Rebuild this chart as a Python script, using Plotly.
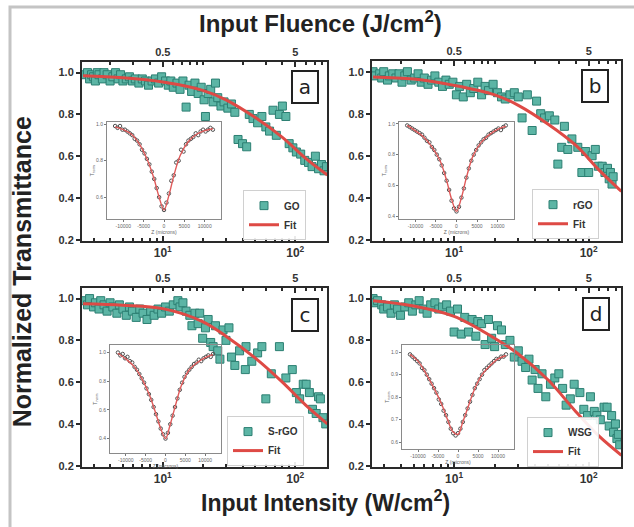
import plotly.graph_objects as go

# ---------------- data ----------------
# Main panels: input intensity (W/cm^2) vs normalized transmittance
I_a = [2.6, 2.7, 2.8, 2.9, 3.0, 3.1, 3.2, 3.3, 3.5, 3.6, 3.8, 4.0, 4.2, 4.4, 4.6, 4.8, 5.0, 5.3, 5.6, 5.9,
       6.2, 6.6, 7.0, 7.4, 7.8, 8.3, 8.8, 9.3, 9.8, 10.5, 11.0, 11.5, 12.0, 12.8, 13.5, 14.2, 15.0, 15.8, 16.5, 17.5,
       18.5, 19.5, 20.5, 21.0, 22.0, 23.0, 24.0, 25.0, 26.0, 27.5, 29.0, 31.0, 33.0, 35.0, 37.0, 40.0, 43.0, 45.0, 48.0, 52.0,
       56.0, 60.0, 64.0, 68.0, 72.0, 76.0, 80.0, 85.0, 90.0, 96.0, 102.0, 110.0, 118.0, 126.0, 134.0, 142.0, 150.0, 158.0, 165.0, 172.0]
T_a = [0.99, 1.00, 0.97, 0.99, 0.98, 0.96, 1.00, 0.99, 0.97, 1.00, 0.99, 0.96, 0.98, 1.00, 0.97, 0.99, 0.96, 0.97, 0.98, 0.96,
       0.97, 0.95, 0.97, 0.96, 0.94, 0.96, 0.97, 0.95, 0.98, 0.96, 0.94, 0.96, 0.93, 0.95, 0.92, 0.96, 0.835, 0.94, 0.91, 0.95,
       0.90, 0.93, 0.87, 0.79, 0.90, 0.92, 0.86, 0.95, 0.88, 0.84, 0.86, 0.83, 0.85, 0.81, 0.68, 0.66, 0.645, 0.80, 0.78, 0.76,
       0.79, 0.74, 0.72, 0.82, 0.70, 0.80, 0.84, 0.79, 0.66, 0.64, 0.62, 0.61, 0.58, 0.57, 0.55, 0.60, 0.54, 0.56, 0.53, 0.55]

I_b = [2.5, 2.6, 2.8, 2.9, 3.0, 3.2, 3.3, 3.5, 3.7, 3.9, 4.1, 4.3, 4.5, 4.8, 5.1, 5.4, 5.7, 6.0, 6.4, 6.8,
       7.2, 7.7, 8.2, 8.7, 9.2, 9.8, 10.4, 11.0, 11.7, 12.4, 13.2, 14.0, 15.0, 16.0, 17.0, 18.0, 19.5, 21.0, 22.5, 24.0,
       26.0, 28.0, 30.0, 32.0, 35.0, 38.0, 41.0, 44.0, 47.0, 51.0, 56.0, 59.0, 63.0, 66.0, 70.0, 75.0, 83.0, 89.0, 95.0, 100.0,
       106.0, 112.0, 118.0, 126.0, 132.0, 138.0, 142.0, 145.0, 149.0, 152.0]
T_b = [1.00, 0.98, 0.99, 0.97, 1.00, 0.96, 0.98, 0.99, 0.97, 0.99, 0.95, 0.98, 1.00, 0.96, 0.97, 0.99, 0.95, 0.97, 0.94, 0.96,
       0.98, 0.95, 0.93, 0.96, 0.94, 0.95, 0.89, 0.93, 0.88, 0.94, 0.90, 0.92, 0.95, 0.89, 0.93, 0.91, 0.94, 0.90, 0.88, 0.87,
       0.89, 0.90, 0.88, 0.78, 0.89, 0.72, 0.86, 0.80, 0.78, 0.79, 0.77, 0.56, 0.64, 0.74, 0.63, 0.68, 0.64, 0.52, 0.62, 0.52,
       0.60, 0.63, 0.55, 0.55, 0.52, 0.54, 0.49, 0.52, 0.465, 0.50]

I_c = [2.6, 2.7, 2.8, 3.0, 3.1, 3.3, 3.4, 3.6, 3.8, 4.0, 4.2, 4.5, 4.7, 5.0, 5.3, 5.6, 5.9, 6.3, 6.7, 7.1,
       7.6, 8.1, 8.6, 9.2, 9.8, 10.5, 11.2, 12.0, 13.0, 13.5, 14.2, 15.0, 16.0, 16.6, 17.5, 18.5, 19.0, 20.0, 21.0, 22.0,
       23.0, 24.0, 25.0, 26.0, 27.0, 28.5, 30.0, 31.6, 33.0, 35.0, 38.0, 42.0, 42.5, 47.0, 52.0, 56.0, 60.0, 66.0, 76.0, 85.0,
       95.0, 102.0, 108.0, 115.0, 121.0, 128.0, 135.0, 144.0, 150.0, 155.0, 162.0, 170.0]
T_c = [0.99, 0.97, 1.00, 0.96, 0.98, 0.95, 0.99, 0.97, 0.94, 0.98, 0.96, 0.93, 0.97, 0.95, 0.92, 0.96, 0.94, 0.91, 0.95, 0.93,
       0.90, 0.94, 0.92, 0.95, 0.93, 0.96, 0.94, 0.97, 0.99, 0.96, 0.98, 0.94, 0.92, 0.87, 0.93, 0.88, 0.93, 0.81, 0.86, 0.90,
       0.79, 0.77, 0.87, 0.75, 0.71, 0.85, 0.80, 0.86, 0.72, 0.68, 0.75, 0.66, 0.77, 0.70, 0.74, 0.77, 0.52, 0.64, 0.77, 0.62,
       0.66, 0.55, 0.52, 0.59, 0.59, 0.55, 0.47, 0.45, 0.53, 0.52, 0.43, 0.40]

I_d = [2.5, 2.6, 2.7, 2.9, 3.0, 3.2, 3.4, 3.6, 3.8, 4.0, 4.3, 4.6, 4.9, 5.2, 5.5, 5.9, 6.3, 6.7, 7.2, 7.7,
       8.2, 8.8, 9.4, 10.0, 10.6, 11.3, 12.0, 12.8, 13.6, 14.5, 15.0, 16.0, 17.0, 18.0, 19.0, 20.0, 21.0, 22.5, 24.0, 26.0,
       28.0, 30.0, 32.0, 34.0, 36.0, 38.0, 40.0, 42.0, 45.0, 48.0, 52.0, 56.0, 60.0, 64.0, 68.0, 73.0, 78.0, 86.0, 92.0, 98.0,
       103.0, 110.0, 115.0, 122.0, 130.0, 137.0, 142.0, 148.0, 153.0, 158.0, 162.0, 166.0, 170.0]
T_d = [1.00, 0.98, 0.99, 0.97, 0.95, 0.96, 0.93, 0.97, 0.95, 0.92, 0.96, 0.98, 0.94, 0.97, 0.99, 0.95, 0.93, 0.97, 0.98, 0.95,
       0.96, 0.97, 0.94, 0.84, 0.95, 0.83, 0.91, 0.84, 0.90, 0.82, 0.89, 0.88, 0.78, 0.90, 0.81, 0.77, 0.87, 0.85, 0.78, 0.80,
       0.72, 0.75, 0.70, 0.67, 0.71, 0.61, 0.66, 0.57, 0.64, 0.53, 0.59, 0.62, 0.64, 0.57, 0.49, 0.52, 0.59, 0.55, 0.47, 0.44,
       0.53, 0.46, 0.44, 0.42, 0.48, 0.48, 0.39, 0.44, 0.36, 0.40, 0.33, 0.35, 0.30]

# Fitted saturable-absorption curves
fit_I = [2.5, 5, 10, 20, 30, 50, 80, 120, 175]
fit_a = [0.985, 0.975, 0.955, 0.915, 0.87, 0.785, 0.69, 0.59, 0.51]
fit_b = [0.975, 0.965, 0.935, 0.89, 0.84, 0.75, 0.65, 0.53, 0.43]
fit_c = [0.975, 0.968, 0.952, 0.89, 0.82, 0.715, 0.60, 0.49, 0.40]
fit_d = [0.99, 0.965, 0.915, 0.81, 0.735, 0.61, 0.46, 0.34, 0.25]

# Inset open-aperture Z-scan traces
z_scan = [-12000, -11400, -10800, -10200, -9600, -9000, -8400, -7800, -7200, -6600, -6000, -5400, -4800, -4200,
          -3600, -3000, -2400, -1800, -1200, -600, 0, 600, 1200, 1800, 2400, 3000, 3600, 4200, 4800, 5400,
          6000, 6600, 7200, 7800, 8400, 9000, 9600, 10200, 10800, 11400, 12000]
zs_a = [0.99, 0.98, 0.99, 0.97, 0.97, 0.96, 0.95, 0.94, 0.92, 0.91, 0.89, 0.86, 0.84, 0.81, 0.78, 0.74, 0.70, 0.65, 0.60, 0.55,
        0.53, 0.57, 0.62, 0.69, 0.72, 0.79, 0.80, 0.86, 0.85, 0.89, 0.91, 0.92, 0.93, 0.95, 0.94, 0.96, 0.97, 0.96, 0.97, 0.98, 0.97]
zs_b = [0.99, 0.98, 0.97, 0.96, 0.95, 0.94, 0.93, 0.91, 0.89, 0.88, 0.85, 0.83, 0.80, 0.77, 0.73, 0.68, 0.63, 0.57, 0.50, 0.45,
        0.43, 0.46, 0.52, 0.58, 0.65, 0.71, 0.76, 0.80, 0.83, 0.86, 0.88, 0.90, 0.91, 0.93, 0.94, 0.95, 0.96, 0.97, 0.96, 0.98, 0.99]
zs_c = [1.00, 0.98, 0.99, 0.96, 0.97, 0.94, 0.93, 0.90, 0.88, 0.85, 0.82, 0.79, 0.75, 0.71, 0.67, 0.62, 0.57, 0.52, 0.47, 0.43,
        0.40, 0.44, 0.50, 0.56, 0.62, 0.68, 0.74, 0.79, 0.83, 0.86, 0.88, 0.90, 0.92, 0.93, 0.95, 0.94, 0.96, 0.97, 0.98, 0.97, 0.99]
zs_d = [0.99, 0.98, 0.97, 0.96, 0.95, 0.93, 0.92, 0.90, 0.88, 0.86, 0.84, 0.82, 0.79, 0.77, 0.74, 0.72, 0.69, 0.66, 0.64, 0.63,
        0.64, 0.66, 0.69, 0.72, 0.75, 0.78, 0.81, 0.84, 0.86, 0.88, 0.90, 0.92, 0.93, 0.94, 0.95, 0.96, 0.97, 0.97, 0.98, 0.98, 0.99]

z_fit = [-12000, -10000, -8000, -6000, -4000, -2500, -1200, 0, 1200, 2500, 4000, 6000, 8000, 10000, 12000]
zf_a = [0.985, 0.97, 0.945, 0.89, 0.80, 0.705, 0.60, 0.53, 0.61, 0.725, 0.83, 0.905, 0.945, 0.965, 0.975]
zf_b = [0.99, 0.955, 0.915, 0.85, 0.76, 0.64, 0.51, 0.43, 0.52, 0.66, 0.79, 0.88, 0.93, 0.965, 0.985]
zf_c = [0.995, 0.955, 0.905, 0.82, 0.70, 0.58, 0.47, 0.40, 0.50, 0.63, 0.77, 0.88, 0.93, 0.965, 0.985]
zf_d = [0.99, 0.96, 0.905, 0.84, 0.765, 0.695, 0.645, 0.635, 0.69, 0.755, 0.83, 0.90, 0.94, 0.97, 0.985]

sample_names = ["GO", "rGO", "S-rGO", "WSG"]
panel_letters = ["a", "b", "c", "d"]
intensity_ticks = [10, 100]
intensity_ticktext = ["10<sup>1</sup>", "10<sup>2</sup>"]
fluence_ticks = [0.5, 5]
fluence_ticktext = ["0.5", "5"]
fluence_per_intensity = 0.05   # J/cm^2 per W/cm^2
y_ticks = [0.2, 0.4, 0.6, 0.8, 1.0]
z_ticks = [-10000, -5000, 0, 5000, 10000]

# ---------------- styling / geometry ----------------
W, H = 634, 527
FONT = "Liberation Sans, Arial, Helvetica, sans-serif"
TEAL = "#5cb5a5"
TEAL_EDGE = "#2c7f72"
RED = "#de4a45"
DARK = "#2a2a2a"


def px_x(p):
    return p / W


def px_y(p):
    return 1 - p / H


main_x = [(82, 327), (372, 621), (82, 327), (372, 621)]
main_y = [(61, 242), (60, 242), (290, 471), (290, 471)]
inset_x = [(107, 221), (399, 514), (110, 221), (402, 514)]
inset_y = [(122, 220), (122, 220), (348, 457), (348, 453)]
inset_yrange = [(0.48, 1.01), (0.38, 1.01), (0.30, 1.05), (0.57, 1.03)]
inset_yticks = [[0.6, 0.8, 1.0], [0.4, 0.6, 0.8, 1.0], [0.4, 0.6, 0.8, 1.0], [0.6, 0.7, 0.8, 0.9, 1.0]]
legend_pos = [(243, 216), (532, 215), (227, 445), (527, 446)]
label_pos = [(305, 86), (595, 85), (305, 317), (596, 316)]

x_log_range = [0.39, 2.24]
shift = -1.30103  # log10(fluence_per_intensity)

main_I = [I_a, I_b, I_c, I_d]
main_T = [T_a, T_b, T_c, T_d]
fits = [fit_a, fit_b, fit_c, fit_d]
zs = [zs_a, zs_b, zs_c, zs_d]
zfs = [zf_a, zf_b, zf_c, zf_d]

fig = go.Figure()
layout = {}
annotations = []

minor_int = [3, 4, 5, 6, 7, 8, 9, 20, 30, 40, 50, 60, 70, 80, 90]
minor_flu = [0.2, 0.3, 0.4, 0.6, 0.7, 0.8, 0.9, 1, 2, 3, 4, 6, 7, 8]

for k in range(4):
    n = k + 1
    xs = "" if n == 1 else str(n)
    leg = "legend" if n == 1 else f"legend{n}"
    top = n + 4
    ins = n + 8

    # measured points
    fig.add_trace(go.Scatter(
        x=main_I[k], y=main_T[k], mode="markers", name=sample_names[k],
        marker=dict(symbol="square", size=8, color=TEAL, line=dict(color=TEAL_EDGE, width=1)),
        xaxis=f"x{xs}", yaxis=f"y{xs}", legend=leg))
    # fit
    fig.add_trace(go.Scatter(
        x=fit_I, y=fits[k], mode="lines", name="Fit", line=dict(color=RED, width=3, shape="spline"),
        xaxis=f"x{xs}", yaxis=f"y{xs}", legend=leg))
    # fluence axis carrier (no visible marks)
    fig.add_trace(go.Scatter(
        x=[v * fluence_per_intensity for v in fit_I], y=fits[k], mode="lines",
        line=dict(width=0, color="rgba(0,0,0,0)"), hoverinfo="skip", showlegend=False,
        xaxis=f"x{top}", yaxis=f"y{xs}"))
    # inset Z-scan
    fig.add_trace(go.Scatter(
        x=z_scan, y=zs[k], mode="markers", showlegend=False,
        marker=dict(symbol="circle-open", size=3.5, color="#505050", line=dict(width=1)),
        xaxis=f"x{ins}", yaxis=f"y{ins}"))
    fig.add_trace(go.Scatter(
        x=z_fit, y=zfs[k], mode="lines", showlegend=False,
        line=dict(color="#e05a5a", width=1.4, shape="spline"),
        xaxis=f"x{ins}", yaxis=f"y{ins}"))

    xd = [px_x(main_x[k][0]), px_x(main_x[k][1])]
    yd = [px_y(main_y[k][1]), px_y(main_y[k][0])]

    layout[f"xaxis{xs}"] = dict(
        type="log", domain=xd, range=x_log_range, anchor=f"y{xs}",
        tickmode="array", tickvals=intensity_ticks, ticktext=intensity_ticktext,
        ticks="inside", ticklen=5, tickwidth=1.5, tickcolor=DARK,
        minor=dict(tickmode="array", tickvals=minor_int, ticks="inside", ticklen=3, tickcolor=DARK, showgrid=False),
        showline=True, linewidth=2, linecolor=DARK, showgrid=False, zeroline=False,
        tickfont=dict(family=FONT, size=12, color="#333", weight="bold"))
    layout[f"yaxis{xs}"] = dict(
        domain=yd, range=[0.195, 1.05], anchor=f"x{xs}",
        tickmode="array", tickvals=y_ticks, ticktext=[f"{v:.1f}" for v in y_ticks],
        ticks="outside", ticklen=4, tickwidth=1.5, tickcolor=DARK,
        showline=True, mirror=True, linewidth=2, linecolor=DARK, showgrid=False, zeroline=False,
        tickfont=dict(family=FONT, size=11, color="#333", weight="bold"))
    layout[f"xaxis{top}"] = dict(
        type="log", overlaying=f"x{xs}", side="top", anchor=f"y{xs}",
        range=[x_log_range[0] + shift, x_log_range[1] + shift],
        tickmode="array", tickvals=fluence_ticks, ticktext=fluence_ticktext,
        ticks="inside", ticklen=5, tickwidth=1.5, tickcolor=DARK,
        minor=dict(tickmode="array", tickvals=minor_flu, ticks="inside", ticklen=3, tickcolor=DARK, showgrid=False),
        showline=True, linewidth=2, linecolor=DARK, showgrid=False, zeroline=False,
        tickfont=dict(family=FONT, size=11, color="#333", weight="bold"))

    layout[f"xaxis{ins}"] = dict(
        domain=[px_x(inset_x[k][0]), px_x(inset_x[k][1])], range=[-14000, 14000], anchor=f"y{ins}",
        tickmode="array", tickvals=z_ticks, ticktext=[str(v) for v in z_ticks],
        ticks="outside", ticklen=2, tickcolor="#777",
        showline=True, mirror=True, linewidth=1, linecolor="#8a8a8a", showgrid=False, zeroline=False,
        tickfont=dict(family=FONT, size=5, color="#666"),
        title=dict(text="Z (microns)", font=dict(family=FONT, size=5, color="#666"), standoff=1))
    layout[f"yaxis{ins}"] = dict(
        domain=[px_y(inset_y[k][1]), px_y(inset_y[k][0])], range=list(inset_yrange[k]), anchor=f"x{ins}",
        tickmode="array", tickvals=inset_yticks[k], ticktext=[f"{v:.1f}" for v in inset_yticks[k]],
        ticks="outside", ticklen=2, tickcolor="#777",
        showline=True, mirror=True, linewidth=1, linecolor="#8a8a8a", showgrid=False, zeroline=False,
        tickfont=dict(family=FONT, size=5, color="#666"),
        title=dict(text="T<sub>norm</sub>", font=dict(family=FONT, size=5, color="#666"), standoff=1))

    lx, ly = legend_pos[k]
    layout[leg] = dict(
        x=px_x(lx), y=px_y(ly), xanchor="left", yanchor="middle",
        bgcolor="rgba(255,255,255,0.9)", bordercolor="#d0d0d0", borderwidth=1,
        font=dict(family=FONT, size=10, color="#333", weight="bold"),
        itemwidth=30, tracegroupgap=0)

    cx, cy = label_pos[k]
    annotations.append(dict(
        text=panel_letters[k], x=px_x(cx), y=px_y(cy), xref="paper", yref="paper",
        xanchor="center", yanchor="middle",
        showarrow=False, font=dict(family="DejaVu Sans, sans-serif", size=20, color="#222"),
        bordercolor="#222", borderwidth=2, borderpad=1, width=22, height=28, bgcolor="white"))

annotations += [
    dict(text="Input Fluence (J/cm<sup>2</sup>)", x=px_x(320), y=px_y(20), xref="paper", yref="paper",
         xanchor="center", yanchor="middle", showarrow=False,
         font=dict(family=FONT, size=24, color="#222", weight="bold")),
    dict(text="Input Intensity (W/cm<sup>2</sup>)", x=px_x(325), y=px_y(506), xref="paper", yref="paper",
         xanchor="center", yanchor="middle", showarrow=False,
         font=dict(family=FONT, size=23, color="#222", weight="bold")),
    dict(text="Normalized Transmittance", x=px_x(22), y=px_y(274), xref="paper", yref="paper",
         xanchor="center", yanchor="middle", showarrow=False, textangle=-90,
         font=dict(family=FONT, size=25, color="#222", weight="bold")),
]

fig.update_layout(
    width=W, height=H, margin=dict(l=0, r=0, t=0, b=0, pad=0),
    paper_bgcolor="white", plot_bgcolor="rgba(0,0,0,0)",
    font=dict(family=FONT, color="#333"),
    annotations=annotations,
    shapes=[dict(type="rect", xref="paper", yref="paper",
                 x0=px_x(10), y0=px_y(540), x1=px_x(650), y1=px_y(5),
                 line=dict(color="#c4c4c4", width=3))],
    **layout)

fig.write_html("out.html")
